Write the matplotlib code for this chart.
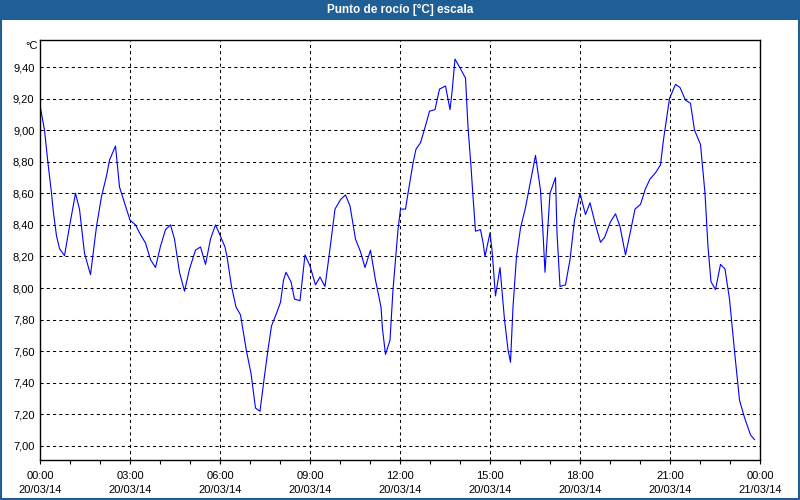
import numpy as np
import matplotlib
matplotlib.use("Agg")
import matplotlib.pyplot as plt
from matplotlib.patches import Rectangle
from matplotlib.ticker import FuncFormatter

# minutes since 20/03/14 00:00 and dew point [°C]
minutes = [1, 9, 16, 23, 27, 33, 39, 49, 59, 71, 79, 89, 101, 113, 123, 133, 139, 151,
           159, 171, 180, 191, 199, 211, 221, 231, 241, 251, 261, 269, 279, 289, 299,
           311, 321, 331, 341, 351, 358, 370, 374, 383, 392, 401, 413, 422, 431, 440,
           448, 456, 463, 473, 481, 487, 492, 502, 509, 520, 530, 540, 551, 560, 570,
           578, 584, 590, 601, 611, 620, 631, 641, 650, 661, 671, 682, 685, 691, 700,
           706, 716, 721, 731, 736, 746, 752, 761, 773, 779, 790, 799, 811, 820, 824,
           830, 839, 851, 856, 862, 866, 871, 881, 886, 890, 900, 904, 911, 920, 929,
           936, 941, 946, 953, 961, 971, 982, 991, 1001, 1006, 1010, 1020, 1031, 1034,
           1040, 1051, 1060, 1069, 1080, 1091, 1100, 1111, 1121, 1129, 1141, 1151, 1160,
           1171, 1181, 1190, 1201, 1211, 1220, 1231, 1241, 1247, 1253, 1259, 1271, 1280,
           1291, 1301, 1309, 1321, 1330, 1336, 1342, 1351, 1361, 1370, 1379, 1390, 1399,
           1409, 1421, 1429]
dew = [9.14, 9.00, 8.79, 8.60, 8.475, 8.33, 8.25, 8.205, 8.39, 8.60, 8.50, 8.22, 8.085,
       8.39, 8.58, 8.71, 8.81, 8.90, 8.64, 8.52, 8.43, 8.40, 8.35, 8.285, 8.18, 8.13,
       8.265, 8.37, 8.40, 8.31, 8.10, 7.98, 8.12, 8.24, 8.26, 8.15, 8.31, 8.40, 8.35,
       8.26, 8.20, 8.01, 7.88, 7.83, 7.60, 7.46, 7.24, 7.22, 7.42, 7.61, 7.76, 7.84,
       7.91, 8.05, 8.10, 8.04, 7.93, 7.92, 8.21, 8.14, 8.02, 8.07, 8.01, 8.20, 8.35,
       8.50, 8.56, 8.59, 8.52, 8.31, 8.23, 8.13, 8.24, 8.05, 7.88, 7.74, 7.58, 7.67,
       7.99, 8.37, 8.50, 8.50, 8.60, 8.79, 8.88, 8.92, 9.05, 9.12, 9.13, 9.26, 9.28,
       9.13, 9.24, 9.45, 9.40, 9.33, 9.02, 8.77, 8.58, 8.36, 8.37, 8.29, 8.20, 8.35,
       8.24, 7.95, 8.13, 7.80, 7.61, 7.53, 7.88, 8.20, 8.38, 8.51, 8.69, 8.84, 8.62,
       8.35, 8.10, 8.60, 8.70, 8.35, 8.01, 8.02, 8.18, 8.43, 8.60, 8.465, 8.54, 8.40,
       8.29, 8.32, 8.42, 8.47, 8.39, 8.21, 8.36, 8.50, 8.53, 8.63, 8.69, 8.73, 8.78,
       8.94, 9.07, 9.20, 9.29, 9.27, 9.19, 9.17, 9.00, 8.91, 8.60, 8.26, 8.04, 7.99,
       8.15, 8.12, 7.93, 7.57, 7.29, 7.18, 7.07, 7.04]

yticks = [7.0, 7.2, 7.4, 7.6, 7.8, 8.0, 8.2, 8.4, 8.6, 8.8, 9.0, 9.2, 9.4]
xticks_h = [0, 3, 6, 9, 12, 15, 18, 21, 24]
xlabels = ["00:00\n20/03/14", "03:00\n20/03/14", "06:00\n20/03/14", "09:00\n20/03/14",
           "12:00\n20/03/14", "15:00\n20/03/14", "18:00\n20/03/14", "21:00\n20/03/14",
           "00:00\n21/03/14"]
title = "Punto de rocío [°C] escala"

plt.rcParams['font.family'] = ['Liberation Sans', 'DejaVu Sans']
bar_blue = '#1F5F96'

fig = plt.figure(figsize=(8, 5), dpi=100)
fig.patch.set_facecolor('white')
ax = fig.add_axes([40 / 800, 40 / 500, 720 / 800, 420 / 500])

hours = np.array(minutes) / 60.0
ax.plot(hours, dew, color='#0000FF', lw=0.8)

ax.set_xlim(0, 24)
ax.set_ylim(6.911, 9.571)
ax.set_yticks(yticks)
ax.yaxis.set_major_formatter(FuncFormatter(lambda v, p: f"{v:.2f}".replace('.', ',')))
ax.set_xticks(xticks_h)
ax.set_xticklabels(xlabels, linespacing=1.45)
ax.set_xticks(range(25), minor=True)
ax.tick_params(axis='x', which='both', direction='out', length=3, width=0.8,
               labelsize=8, pad=5)
ax.tick_params(axis='y', length=0, labelsize=8, pad=4)
ax.grid(True, color='black', linestyle=(0, (3, 3)), lw=0.75)
for s in ax.spines.values():
    s.set_color('black')
    s.set_linewidth(1.0)

fig.text(38 / 800, 1 - 46 / 500, "°C", ha='right', va='center', fontsize=8)

# title bar and window frame
fig.patches.append(Rectangle((0, 1 - 20 / 500), 1, 20 / 500, transform=fig.transFigure,
                             facecolor=bar_blue, edgecolor='none', zorder=0))
fig.patches.append(Rectangle((0.001, 0.002), 0.998, 0.996, transform=fig.transFigure,
                             facecolor='none', edgecolor=bar_blue, lw=1.5, zorder=1))
fig.text(0.5, 1 - 10 / 500, title, ha='center', va='center', color='white',
         fontsize=8.5, fontweight='bold')

fig.savefig("out.png", dpi=100)
